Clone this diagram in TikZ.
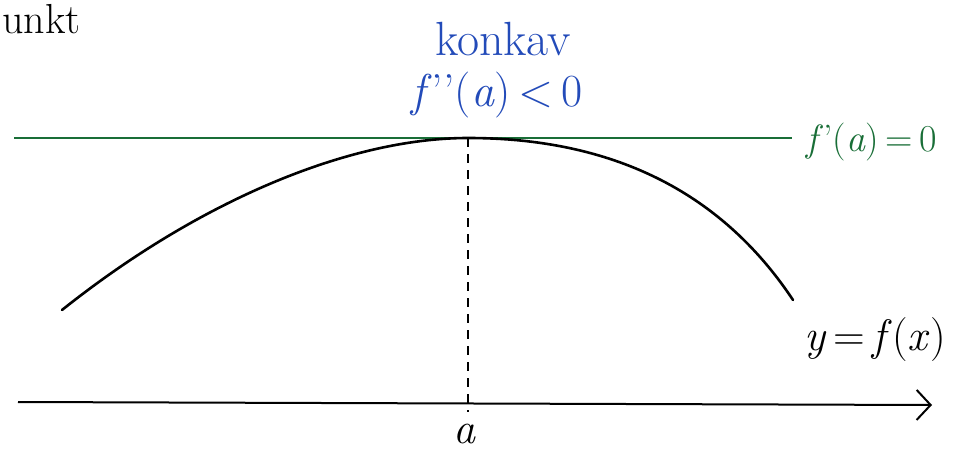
\documentclass[tikz,border=0pt]{standalone}
\usepackage{fontspec}
\usetikzlibrary{arrows.meta}
\definecolor{hblue}{RGB}{35,75,185}
\definecolor{hgreen}{RGB}{25,110,55}
\newcommand{\vi}[1]{\textit{#1}}
\begin{document}
\begin{tikzpicture}[x=1pt,y=-1pt,
  lbl/.style={inner sep=0pt, font=\fontsize{40}{48}\selectfont},
  curvestyle/.style={line width=2.6pt, line cap=round},
  axisstyle/.style={line width=2pt, -{Straight Barb[length=14pt,width=30pt,line width=2pt]}},
  tangentstyle/.style={hgreen, line width=1.4pt},
  dashstyle/.style={line width=1.6pt, dash pattern=on 9pt off 7pt}]
\useasboundingbox (0,0) rectangle (964,455);
\clip (0,0) rectangle (964,455);
% axis
\coordinate (ax0) at (18,402);
\coordinate (ax1) at (932,405);
\draw[axisstyle] (ax0) -- (ax1);
% tangent
\coordinate (t0) at (14,138);
\coordinate (t1) at (792,138);
\draw[tangentstyle] (t0) -- (t1);
% curve
\coordinate (c0) at (62,310);
\coordinate (peak) at (468,138);
\coordinate (c1) at (793,300);
\draw[curvestyle] (c0) .. controls (200,200) and (350,138) .. (peak)
   .. controls (610,138) and (720,190) .. (c1);
% dashed line
\coordinate (foot) at (468,412);
\draw[dashstyle] (peak) -- (foot);
% labels
\node[lbl, anchor=base west, font=\fontsize{42}{50}\selectfont] (cut) at (2,33) {unkt};
\node[lbl, text=hblue, anchor=base, font=\fontsize{48}{56}\selectfont] (konkav) at (503,55) {konkav};
\node[lbl, text=hblue, anchor=base, font=\fontsize{46}{52}\selectfont] (f2) at (497,106) {\vi{f}’’(\vi{a})\,<\,0};
\node[lbl, text=hgreen, anchor=west, font=\fontsize{38}{44}\selectfont] (f1) at (806,142) {\vi{f}’(\vi{a})\,=\,0};
\node[lbl, anchor=west, font=\fontsize{44}{50}\selectfont] (yfx) at (804,340) {\vi{y}\,=\,\vi{f}(\vi{x})};
\node[lbl, anchor=base, font=\fontsize{44}{52}\selectfont] (a) at (465,443) {\vi{a}};
\end{tikzpicture}
\end{document}
